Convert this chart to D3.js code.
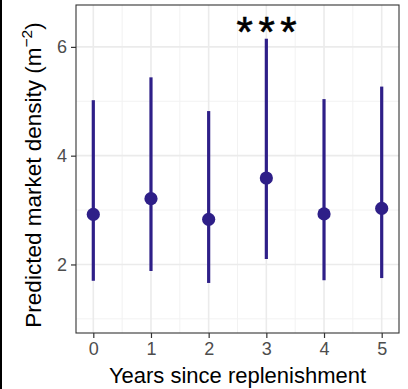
<!DOCTYPE html>
<html>
<head>
<meta charset="utf-8">
<script src="https://cdn.jsdelivr.net/npm/d3@7"></script>
<style>
  body { margin: 0; background: #fff; }
  text { font-family: "Liberation Sans", Arial, sans-serif; }
</style>
</head>
<body>
<div class="chart"></div>
<script>
// values
var years = [0, 1, 2, 3, 4, 5];
var est = [2.92, 3.21, 2.83, 3.59, 2.93, 3.03];
var lower = [1.70, 1.88, 1.66, 2.10, 1.71, 1.75];
var upper = [5.02, 5.44, 4.82, 6.15, 5.04, 5.27];
var yTicks = [2, 4, 6];
var stars = [{year: 3, label: "***"}];

var width = 408, height = 389;
var panel = {left: 76, right: 399, top: 5, bottom: 333};

var svg = d3.select(".chart").append("svg")
  .attr("width", width)
  .attr("height", height);

var x = d3.scaleLinear().domain([-0.3, 5.3]).range([panel.left, panel.right]);
var y = d3.scaleLinear().domain([0.74, 6.77]).range([panel.bottom, panel.top]);

// black line on left edge
svg.append("rect").attr("x", 0).attr("y", 0).attr("width", 2).attr("height", height).attr("fill", "#000");

// grid
var g = svg.append("g");
var xMinor = d3.range(-0.5, 5.6, 1).filter(function(d) { return x(d) > panel.left && x(d) < panel.right; });
var yMinor = [1, 3, 5];
g.selectAll(".xminor").data(xMinor).enter().append("line")
  .attr("x1", function(d) { return x(d); }).attr("x2", function(d) { return x(d); })
  .attr("y1", panel.top).attr("y2", panel.bottom)
  .attr("stroke", "#f2f2f2").attr("stroke-width", 1);
g.selectAll(".yminor").data(yMinor).enter().append("line")
  .attr("y1", function(d) { return y(d); }).attr("y2", function(d) { return y(d); })
  .attr("x1", panel.left).attr("x2", panel.right)
  .attr("stroke", "#f2f2f2").attr("stroke-width", 1);
g.selectAll(".xmajor").data(years).enter().append("line")
  .attr("x1", function(d) { return x(d); }).attr("x2", function(d) { return x(d); })
  .attr("y1", panel.top).attr("y2", panel.bottom)
  .attr("stroke", "#ebebeb").attr("stroke-width", 1.6);
g.selectAll(".ymajor").data(yTicks).enter().append("line")
  .attr("y1", function(d) { return y(d); }).attr("y2", function(d) { return y(d); })
  .attr("x1", panel.left).attr("x2", panel.right)
  .attr("stroke", "#ebebeb").attr("stroke-width", 1.6);

// axes
var xAxis = svg.append("g")
  .attr("transform", "translate(0," + panel.bottom + ")")
  .call(d3.axisBottom(x).tickValues(years).tickSize(5).tickPadding(4).tickFormat(d3.format("d")));
var yAxis = svg.append("g")
  .attr("transform", "translate(" + panel.left + ",0)")
  .call(d3.axisLeft(y).tickValues(yTicks).tickSize(5).tickPadding(4).tickFormat(d3.format("d")));
[xAxis, yAxis].forEach(function(a) {
  a.select(".domain").remove();
  a.selectAll(".tick line").attr("stroke", "#333").attr("stroke-width", 1.2);
  a.selectAll(".tick text").attr("fill", "#4d4d4d").style("font-size", "18px")
    .style("font-family", "Liberation Sans, Arial, sans-serif");
});

// panel border
svg.append("rect")
  .attr("x", panel.left).attr("y", panel.top)
  .attr("width", panel.right - panel.left).attr("height", panel.bottom - panel.top)
  .attr("fill", "none").attr("stroke", "#333").attr("stroke-width", 1.1);

// error bars and points
var col = "#2e1f88";
var rows = years.map(function(d, i) { return {year: d, est: est[i], lo: lower[i], hi: upper[i]}; });
var elem = svg.selectAll(".pt").data(rows).enter().append("g");
elem.append("line")
  .attr("x1", function(d) { return x(d.year); }).attr("x2", function(d) { return x(d.year); })
  .attr("y1", function(d) { return y(d.lo); }).attr("y2", function(d) { return y(d.hi); })
  .attr("stroke", col).attr("stroke-width", 3.2);
elem.append("circle")
  .attr("cx", function(d) { return x(d.year); })
  .attr("cy", function(d) { return y(d.est); })
  .attr("r", 6.6)
  .attr("fill", col);

// significance stars
svg.selectAll(".star").data(stars).enter().append("text")
  .attr("x", function(d) { return x(d.year) + 3; })
  .attr("y", 46)
  .attr("text-anchor", "middle")
  .style("font-size", "42px")
  .style("letter-spacing", "5.5px")
  .attr("fill", "#000")
  .attr("stroke", "#000")
  .attr("stroke-width", 0.6)
  .text(function(d) { return d.label; });

// axis titles
svg.append("text")
  .attr("x", (panel.left + panel.right) / 2)
  .attr("y", 383)
  .attr("text-anchor", "middle")
  .style("font-size", "22px")
  .text("Years since replenishment");

var yt = svg.append("text")
  .attr("transform", "translate(41,175) rotate(-90)")
  .attr("text-anchor", "middle")
  .style("font-size", "22.5px");
yt.append("tspan").text("Predicted market density (m");
yt.append("tspan").attr("dy", -9).style("font-size", "15.5px").text("\u22122");
yt.append("tspan").attr("dy", 9).text(")");
</script>
</body>
</html>
